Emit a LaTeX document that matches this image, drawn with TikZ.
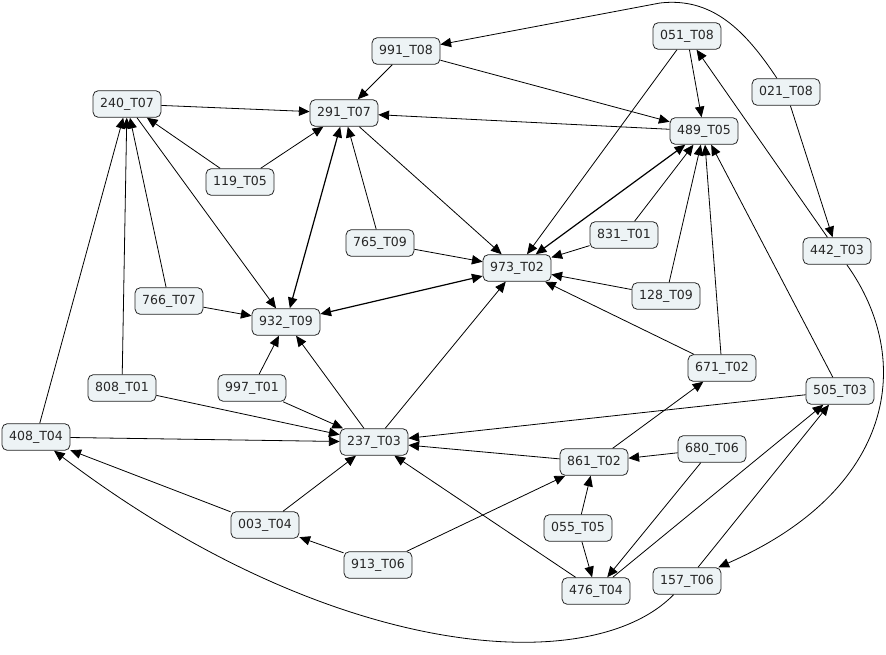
\documentclass[tikz,border=0pt]{standalone}
\usepackage{fontspec}
\setmainfont{DejaVu Sans}
\usepackage{xcolor}
\usepackage{tikz}
\usetikzlibrary{arrows.meta}

\definecolor{boxfill}{RGB}{237,243,245}

\begin{document}
\begin{tikzpicture}[
    x=0.75pt, y=-0.75pt,
    task/.style={
        rectangle,
        rounded corners=4pt,
        draw=black!85,
        fill=boxfill,
        line width=0.6pt,
        minimum width=51pt,
        minimum height=20pt,
        inner sep=0pt,
        text=black!85,
        font=\fontsize{9.4}{11}\selectfont
    },
    link/.style={
        -{Triangle[length=8pt,width=7pt]},
        line width=0.6pt,
        draw=black
    },
    twoway/.style={
        {Triangle[length=8pt,width=7pt]}-{Triangle[length=8pt,width=7pt]},
        line width=0.9pt,
        draw=black
    }
]
\useasboundingbox (0,0) rectangle (886,654);

% Upper row
\node[task] (n991) at (406,51) {991\_T08};
\node[task] (n051) at (687,36) {051\_T08};
\node[task] (n240) at (127,104) {240\_T07};
\node[task] (n291) at (344,113) {291\_T07};
\node[task] (n489) at (704,131) {489\_T05};
\node[task] (n021) at (786,92) {021\_T08};
\node[task] (n119) at (240,182) {119\_T05};

% Middle band
\node[task] (n765) at (380,243) {765\_T09};
\node[task] (n831) at (624,235) {831\_T01};
\node[task] (n973) at (517,268) {973\_T02};
\node[task] (n442) at (837,251) {442\_T03};
\node[task] (n766) at (169,301) {766\_T07};
\node[task] (n128) at (666,296) {128\_T09};
\node[task] (n932) at (286,322) {932\_T09};
\node[task] (n671) at (722,368) {671\_T02};
\node[task] (n808) at (122,388) {808\_T01};
\node[task] (n997) at (252,388) {997\_T01};
\node[task] (n505) at (840,391) {505\_T03};

% Lower part
\node[task] (n408) at (36,437) {408\_T04};
\node[task] (n237) at (374,442) {237\_T03};
\node[task] (n861) at (594,462) {861\_T02};
\node[task] (n680) at (712,449) {680\_T06};
\node[task] (n003) at (265,525) {003\_T04};
\node[task] (n055) at (578,528) {055\_T05};
\node[task] (n913) at (378,565) {913\_T06};
\node[task] (n476) at (596,591) {476\_T04};
\node[task] (n157) at (687,581) {157\_T06};

% Links in the top half
\draw[link] (n991) -- (n291);
\draw[link] (n991) -- (n489);
\draw[link] (n021) -- (n442);
\draw[link] (n051) -- (n489);
\draw[link] (n051) -- (n973);
\draw[link] (n442) -- (n051);
\draw[link] (n240) -- (n291);
\draw[link] (n240) -- (n932);
\draw[link] (n119) -- (n240);
\draw[link] (n119) -- (n291);
\draw[link] (n291) -- (n973);
\draw[link] (n489) -- (n291);
\draw[link] (n765) -- (n291);
\draw[link] (n765) -- (n973);
\draw[link] (n831) -- (n973);
\draw[link] (n831) -- (n489);
\draw[link] (n128) -- (n973);
\draw[link] (n128) -- (n489);
\draw[link] (n671) -- (n489);
\draw[link] (n671) -- (n973);
\draw[link] (n505) -- (n489);
\draw[link] (n766) -- (n240);
\draw[link] (n766) -- (n932);
\draw[link] (n808) -- (n240);
\draw[link] (n408) -- (n240);

% Two-way links
\draw[twoway] (n291) -- (n932);
\draw[twoway] (n489) -- (n973);
\draw[twoway] (n932) -- (n973);

% Links in the bottom half
\draw[link] (n808) -- (n237);
\draw[link] (n408) -- (n237);
\draw[link] (n997) -- (n932);
\draw[link] (n997) -- (n237);
\draw[link] (n237) -- (n932);
\draw[link] (n237) -- (n973);
\draw[link] (n505) -- (n237);
\draw[link] (n861) -- (n237);
\draw[link] (n861) -- (n671);
\draw[link] (n680) -- (n861);
\draw[link] (n680) -- (n476);
\draw[link] (n003) -- (n408);
\draw[link] (n003) -- (n237);
\draw[link] (n913) -- (n003);
\draw[link] (n913) -- (n861);
\draw[link] (n055) -- (n861);
\draw[link] (n055) -- (n476);
\draw[link] (n476) -- (n237);
\draw[link] (n476) -- (n505);
\draw[link] (n157) -- (n505);

% Long curved links round the outside
\draw[link] (n021) .. controls (745,30) and (712,-3) .. (660,3) -- (n991);
\draw[link] (n442) .. controls (915,360) and (895,490) .. (n157);
\draw[link] (n157) .. controls (590,680) and (330,660) .. (n408);

\end{tikzpicture}
\end{document}
